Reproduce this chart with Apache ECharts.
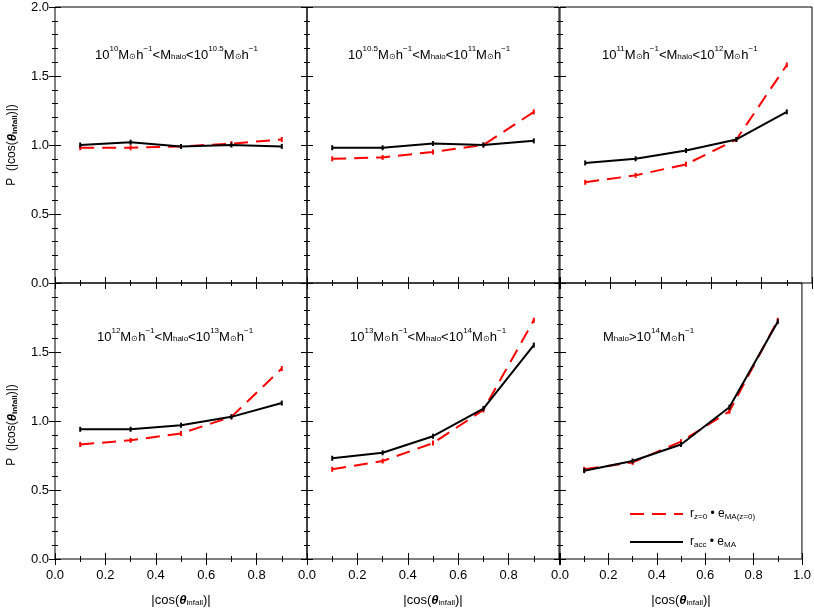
<!DOCTYPE html><html><head><meta charset="utf-8">
<script src="https://cdn.jsdelivr.net/npm/echarts@6/dist/echarts.min.js"></script>
<style>html,body{margin:0;background:#fff}#c{width:814px;height:608px}</style></head><body><div id="c"></div>
<script>
const xs=[0.1,0.3,0.5,0.7,0.9];
const black1=[1.00,1.02,0.99,1.00,0.99], red1=[0.98,0.98,0.99,1.01,1.04];
const black2=[0.98,0.98,1.01,1.00,1.03], red2=[0.90,0.91,0.95,1.00,1.24];
const black3=[0.87,0.90,0.96,1.04,1.24], red3=[0.73,0.78,0.86,1.04,1.58];
const black4=[0.94,0.94,0.97,1.03,1.13], red4=[0.83,0.86,0.91,1.03,1.38];
const black5=[0.73,0.77,0.89,1.09,1.55], red5=[0.65,0.71,0.84,1.08,1.73];
const black6=[0.64,0.71,0.83,1.10,1.72], red6=[0.65,0.70,0.85,1.07,1.73];
const blacks=[black1,black2,black3,black4,black5,black6];
const reds=[red1,red2,red3,red4,red5,red6];
const titles=[
 [['10','n'],['10','p'],['M','n'],['⊙','b'],['h','n'],['−1','p'],['<M','n'],['halo','b'],['<10','n'],['10.5','p'],['M','n'],['⊙','b'],['h','n'],['−1','p']],
 [['10','n'],['10.5','p'],['M','n'],['⊙','b'],['h','n'],['−1','p'],['<M','n'],['halo','b'],['<10','n'],['11','p'],['M','n'],['⊙','b'],['h','n'],['−1','p']],
 [['10','n'],['11','p'],['M','n'],['⊙','b'],['h','n'],['−1','p'],['<M','n'],['halo','b'],['<10','n'],['12','p'],['M','n'],['⊙','b'],['h','n'],['−1','p']],
 [['10','n'],['12','p'],['M','n'],['⊙','b'],['h','n'],['−1','p'],['<M','n'],['halo','b'],['<10','n'],['13','p'],['M','n'],['⊙','b'],['h','n'],['−1','p']],
 [['10','n'],['13','p'],['M','n'],['⊙','b'],['h','n'],['−1','p'],['<M','n'],['halo','b'],['<10','n'],['14','p'],['M','n'],['⊙','b'],['h','n'],['−1','p']],
 [['M','n'],['halo','b'],['>10','n'],['14','p'],['M','n'],['⊙','b'],['h','n'],['−1','p']]
];
const xTicks=['0.0','0.2','0.4','0.6','0.8','1.0'];
const yTicks=['0.0','0.5','1.0','1.5','2.0'];
const F='Liberation Sans, Arial, sans-serif';
const rich={n:{fontSize:13,fontWeight:'normal',fontFamily:F,color:'#000',verticalAlign:'bottom'},
 p:{fontSize:8,fontWeight:'normal',fontFamily:F,color:'#000',verticalAlign:'top',padding:[0,0,9,0]},
 b:{fontSize:8,fontWeight:'normal',fontFamily:F,color:'#000',padding:[6,0,0,0]}};
function fmt(seg){return seg.map(s=>'{'+s[1]+'|'+s[0]+'}').join('');}
const L=[55,307,560], W=252, T=[7,283], H=[276,283];
const grids=[],xAxes=[],yAxes=[],series=[],titleArr=[];
const tpos=[[90,40],[343,40],[597,40],[92,322],[345,322],[598,322]];
for(let i=0;i<6;i++){
 const r=Math.floor(i/3),c=i%3;
 grids.push({left:L[c],top:T[r],width:W,height:H[r],show:true,borderColor:'#000',borderWidth:1,containLabel:false});
 const base={type:'value',min:0,max:1,interval:0.2,gridIndex:i,
  axisLine:{show:false},axisTick:{inside:true,length:6,lineStyle:{color:'#000'}},
  minorTick:{show:true,splitNumber:2,length:3,lineStyle:{color:'#000'}},splitLine:{show:false}};
 xAxes.push(Object.assign({},base,{position:'bottom',axisLabel:{show:r===1,color:'#000',fontSize:13,fontFamily:F,margin:10,
  showMaxLabel:c===2,formatter:v=>xTicks[Math.round(v/0.2)]}},
  r===1?{name:'x',nameLocation:'middle',nameGap:34,nameTextStyle:{color:'#000',fontSize:13,fontFamily:F}}:{}));
 xAxes.push(Object.assign({},base,{position:'top',axisLabel:{show:false}}));
 const yb={type:'value',min:0,max:2,interval:0.5,gridIndex:i,axisLine:{show:false},
  axisTick:{inside:true,length:6,lineStyle:{color:'#000'}},
  minorTick:{show:true,splitNumber:5,length:3,lineStyle:{color:'#000'}},splitLine:{show:false}};
 yAxes.push(Object.assign({},yb,{position:'left',axisLabel:{show:c===0,color:'#000',fontSize:13,fontFamily:F,margin:6,
  showMaxLabel:r===0,formatter:v=>yTicks[Math.round(v/0.5)]}}));
 yAxes.push(Object.assign({},yb,{position:'right',axisLabel:{show:false}}));
 series.push({type:'line',xAxisIndex:2*i,yAxisIndex:2*i,data:xs.map((x,k)=>[x,reds[i][k]]),
  symbol:'rect',symbolSize:[2,5],itemStyle:{color:'#ff0000'},lineStyle:{color:'#ff0000',width:2,type:[14,8]},z:2,silent:true});
 series.push({type:'line',xAxisIndex:2*i,yAxisIndex:2*i,data:xs.map((x,k)=>[x,blacks[i][k]]),
  symbol:'rect',symbolSize:[2,5],itemStyle:{color:'#000'},lineStyle:{color:'#000',width:2},z:3,silent:true});
 titleArr.push({left:tpos[i][0],top:tpos[i][1],text:fmt(titles[i]),textStyle:{fontWeight:'normal',rich:rich}});
}
xAxes.forEach(a=>{if(a.name){a.name='{n||cos(}{t|θ}{b|infall}{n|)|}';a.nameTextStyle.rich={n:{fontSize:13,fontFamily:F,color:'#000'},t:{fontSize:13,fontStyle:'italic',fontWeight:'bold',fontFamily:F,color:'#000'},b:{fontSize:8,fontFamily:F,color:'#000',padding:[6,0,0,0]}};}});
const yname='{n|P  (|cos(}{t|θ}{b|infall}{n|)|)}';
const yrich={n:{fontSize:12,fontFamily:F,color:'#000'},t:{fontSize:13,fontStyle:'italic',fontWeight:'bold',fontFamily:F,color:'#000'},b:{fontSize:8,fontWeight:'bold',fontFamily:F,color:'#000',padding:[6,0,0,0]}};
const graphic=[
 {type:'text',rotation:Math.PI/2,x:12,y:145,style:{text:yname,rich:yrich,align:'center',verticalAlign:'middle'}},
 {type:'text',rotation:Math.PI/2,x:12,y:425,style:{text:yname,rich:yrich,align:'center',verticalAlign:'middle'}},
 {type:'line',shape:{x1:630,y1:514,x2:683,y2:514},style:{stroke:'#ff0000',lineWidth:2,lineDash:[14,8]}},
 {type:'text',x:690,y:514,style:{text:'{n|r}{b|z=0}{n| • e}{b|MA(z=0)}',verticalAlign:'middle',rich:{n:{fontSize:12,fontFamily:F,color:'#ff0000'},b:{fontSize:8,fontFamily:F,color:'#ff0000',padding:[6,0,0,0]}}}},
 {type:'line',shape:{x1:630,y1:542,x2:683,y2:542},style:{stroke:'#000',lineWidth:2}},
 {type:'text',x:690,y:542,style:{text:'{n|r}{b|acc}{n| • e}{b|MA}',verticalAlign:'middle',rich:{n:{fontSize:12,fontFamily:F,color:'#000'},b:{fontSize:8,fontFamily:F,color:'#000',padding:[6,0,0,0]}}}}
];
const chart=echarts.init(document.getElementById('c'));
chart.setOption({animation:false,backgroundColor:'#fff',grid:grids,xAxis:xAxes,yAxis:yAxes,series:series,title:titleArr,graphic:graphic});
</script></body></html>
